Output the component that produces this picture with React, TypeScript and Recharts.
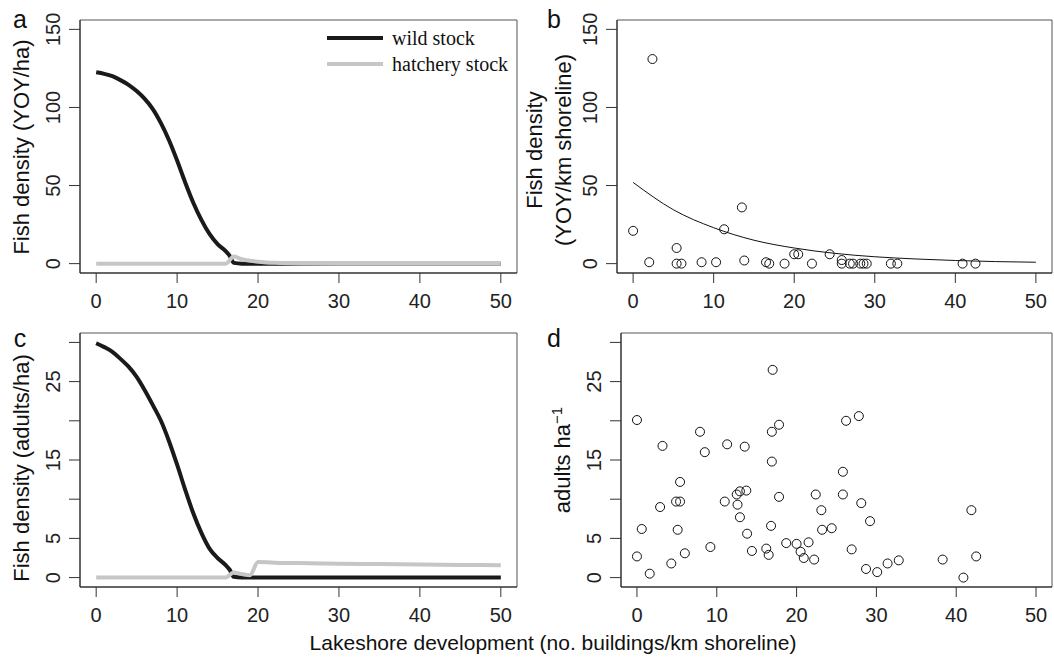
import React from 'react';
import { ComposedChart, Line, Scatter, XAxis, YAxis, ReferenceArea, Label, Legend } from 'recharts';

// panel a: modelled YOY density
const aWild = [
    { x: 0, y: 122.5 }, { x: 1, y: 121.5 }, { x: 2, y: 120 }, { x: 3, y: 117.5 }, { x: 4, y: 114.5 },
    { x: 5, y: 110.5 }, { x: 6, y: 105.5 }, { x: 7, y: 99 }, { x: 8, y: 90 }, { x: 9, y: 79 },
    { x: 10, y: 66 }, { x: 11, y: 52 }, { x: 12, y: 39 }, { x: 13, y: 28 }, { x: 14, y: 19 },
    { x: 15, y: 12.5 }, { x: 16, y: 8 }, { x: 16.5, y: 5 }, { x: 17, y: 0.5 }, { x: 18, y: 0 },
    { x: 25, y: 0 }, { x: 35, y: 0 }, { x: 50, y: 0 },
];
const aHatch = [
    { x: 0, y: 0 }, { x: 8, y: 0 }, { x: 16, y: 0 }, { x: 17, y: 4.5 }, { x: 18, y: 2.8 },
    { x: 19, y: 1.8 }, { x: 20, y: 1.2 }, { x: 21, y: 0.8 }, { x: 22, y: 0.5 }, { x: 24, y: 0.2 },
    { x: 26, y: 0.05 }, { x: 30, y: 0 }, { x: 50, y: 0 },
];

// panel b: observed YOY density and fitted curve
const bPoints = [
    { x: 0, y: 21 }, { x: 2.0, y: 0.9 }, { x: 2.4, y: 131 }, { x: 5.4, y: 10 }, { x: 5.4, y: 0 },
    { x: 6.0, y: 0 }, { x: 8.5, y: 0.9 }, { x: 10.3, y: 0.9 }, { x: 11.3, y: 22 }, { x: 13.5, y: 36 },
    { x: 13.8, y: 2 }, { x: 16.5, y: 0.9 }, { x: 16.9, y: 0 }, { x: 18.8, y: 0 }, { x: 20.0, y: 6 },
    { x: 20.5, y: 6 }, { x: 22.2, y: 0 }, { x: 24.4, y: 6 }, { x: 25.9, y: 2.3 }, { x: 25.9, y: 0 },
    { x: 26.9, y: 0 }, { x: 27.3, y: 0 }, { x: 28.2, y: 0 }, { x: 28.6, y: 0 }, { x: 29.0, y: 0 },
    { x: 32.0, y: 0 }, { x: 32.8, y: 0 }, { x: 40.9, y: 0 }, { x: 42.5, y: 0 },
];
const bFit = [
    { x: 0, y: 52 }, { x: 5, y: 34.5 }, { x: 10, y: 23 }, { x: 15, y: 15 }, { x: 20, y: 10 },
    { x: 25, y: 6.6 }, { x: 30, y: 4.4 }, { x: 35, y: 3 }, { x: 40, y: 2 }, { x: 45, y: 1.3 }, { x: 50, y: 0.9 },
];

// panel c: modelled adult density
const cWild = [
    { x: 0, y: 29.9 }, { x: 1, y: 29.4 }, { x: 2, y: 28.8 }, { x: 3, y: 27.9 }, { x: 4, y: 26.9 },
    { x: 5, y: 25.6 }, { x: 6, y: 23.9 }, { x: 7, y: 22.0 }, { x: 8, y: 20.0 }, { x: 9, y: 17.4 },
    { x: 10, y: 14.4 }, { x: 11, y: 11.2 }, { x: 12, y: 8.2 }, { x: 13, y: 5.7 }, { x: 14, y: 3.7 },
    { x: 15, y: 2.5 }, { x: 16, y: 1.6 }, { x: 16.5, y: 1 }, { x: 17, y: 0.1 }, { x: 18, y: 0 },
    { x: 25, y: 0 }, { x: 35, y: 0 }, { x: 50, y: 0 },
];
const cHatch = [
    { x: 0, y: 0 }, { x: 8, y: 0 }, { x: 16, y: 0 }, { x: 17, y: 0.65 }, { x: 18, y: 0.45 },
    { x: 19, y: 0.3 }, { x: 20, y: 2.0 }, { x: 22, y: 1.9 }, { x: 25, y: 1.85 }, { x: 30, y: 1.78 },
    { x: 35, y: 1.72 }, { x: 40, y: 1.67 }, { x: 45, y: 1.62 }, { x: 50, y: 1.58 },
];

// panel d: observed adult density
const dPoints = [
    { x: 0, y: 20.1 }, { x: 0, y: 2.7 }, { x: 0.6, y: 6.2 }, { x: 1.6, y: 0.5 }, { x: 3.2, y: 16.8 },
    { x: 2.9, y: 9.0 }, { x: 4.3, y: 1.8 }, { x: 4.9, y: 9.7 }, { x: 5.4, y: 9.7 }, { x: 5.1, y: 6.1 },
    { x: 5.4, y: 12.2 }, { x: 6.0, y: 3.1 }, { x: 7.9, y: 18.6 }, { x: 8.5, y: 16.0 }, { x: 9.2, y: 3.9 },
    { x: 11.0, y: 9.7 }, { x: 11.3, y: 17.0 }, { x: 12.6, y: 9.3 }, { x: 12.5, y: 10.6 }, { x: 12.9, y: 11.0 },
    { x: 13.7, y: 11.1 }, { x: 12.9, y: 7.7 }, { x: 13.5, y: 16.7 }, { x: 13.8, y: 5.6 }, { x: 14.4, y: 3.4 },
    { x: 16.2, y: 3.7 }, { x: 16.5, y: 2.9 }, { x: 16.8, y: 6.6 }, { x: 16.9, y: 14.8 }, { x: 16.9, y: 18.6 },
    { x: 17.0, y: 26.5 }, { x: 17.8, y: 19.5 }, { x: 17.8, y: 10.3 }, { x: 18.7, y: 4.4 }, { x: 20.0, y: 4.3 },
    { x: 20.5, y: 3.3 }, { x: 20.9, y: 2.5 }, { x: 21.5, y: 4.5 }, { x: 22.2, y: 2.3 }, { x: 22.4, y: 10.6 },
    { x: 23.1, y: 8.6 }, { x: 23.2, y: 6.1 }, { x: 24.4, y: 6.3 }, { x: 25.8, y: 13.5 }, { x: 25.8, y: 10.6 },
    { x: 26.2, y: 20.0 }, { x: 26.9, y: 3.6 }, { x: 27.8, y: 20.6 }, { x: 28.1, y: 9.5 }, { x: 28.7, y: 1.1 },
    { x: 29.2, y: 7.2 }, { x: 30.1, y: 0.7 }, { x: 31.4, y: 1.8 }, { x: 32.8, y: 2.2 }, { x: 38.3, y: 2.3 },
    { x: 40.9, y: 0 }, { x: 41.9, y: 8.6 }, { x: 42.5, y: 2.7 },
];

const xTicks = [0, 10, 20, 30, 40, 50];
const yoyTicks = [0, 50, 100, 150];
const adultTicks = [0, 5, 10, 15, 20, 25, 30];
const adultLabels = [0, 5, 15, 25];

const sans = '"Liberation Sans", Arial, Helvetica, sans-serif';
const serif = '"Liberation Serif", "Times New Roman", serif';
const WILD = '#1a1a1a';
const HATCH = '#c6c6c6';
const W = 1054;
const H = 659;

const XTick = (props: any) => (
    <text x={props.x} y={props.y} dy="0.71em" textAnchor="middle" fontSize={20} fill="#222" fontFamily={sans}>
        {props.payload.value}
    </text>
);

// R style: labels rotated with the axis, some labels dropped
const makeYTick = (shown: number[], boxLeft: number) => (props: any) => {
    if (!shown.includes(props.payload.value)) return <g />;
    const x = boxLeft - 20;
    return (
        <text x={x} y={props.y} transform={`rotate(-90 ${x} ${props.y})`} textAnchor="middle"
            fontSize={20} fill="#222" fontFamily={sans}>
            {props.payload.value}
        </text>
    );
};

const vText = (x: number, y: number, size: number, children: React.ReactNode) => (
    <text x={x} y={y} transform={`rotate(-90 ${x} ${y})`} textAnchor="middle" fontSize={size} fill="#111" fontFamily={sans}>
        {children}
    </text>
);

const letter = (x: number, y: number, s: string) => (
    <text x={x} y={y} textAnchor="middle" fontSize={25} fill="#111" fontFamily={sans}>{s}</text>
);

const Box = ({ y1, y2 }: { y1: number; y2: number }) => (
    <ReferenceArea x1={-2} x2={52} y1={y1} y2={y2} fill="none" stroke="#555" strokeWidth={1} ifOverflow="visible" />
);

const xAxis = (
    <XAxis type="number" dataKey="x" domain={[-2, 52]} ticks={xTicks} interval={0} height={30}
        tickSize={10} tickMargin={11} tick={XTick} axisLine={{ stroke: '#222' }} tickLine={{ stroke: '#333' }} allowDuplicatedCategory={false} />
);

const LegendBox = () => (
    <div style={{ fontFamily: serif, fontSize: 20, color: '#111' }}>
        {[{ name: 'wild stock', color: WILD }, { name: 'hatchery stock', color: HATCH }].map(item => (
            <div key={item.name} style={{ display: 'flex', alignItems: 'center', height: 26 }}>
                <svg width={56} height={6}><line x1={0} y1={3} x2={56} y2={3} stroke={item.color} strokeWidth={4} /></svg>
                <span style={{ marginLeft: 9, lineHeight: '26px' }}>{item.name}</span>
            </div>
        ))}
    </div>
);

const layer: React.CSSProperties = { position: 'absolute', left: 0, top: 0 };

export default function App() {
    return (
        <div style={{ position: 'absolute', left: 0, top: 0, width: W, height: H, background: '#fff', overflow: 'hidden' }}>
            {/* a */}
            <div style={layer}>
                <ComposedChart width={W} height={H} margin={{ top: 20, right: 537, bottom: 356, left: 20 }}>
                    {xAxis}
                    <YAxis type="number" domain={[-6, 156]} ticks={yoyTicks} interval={0} width={60}
                        tickSize={11} tickMargin={10} tick={makeYTick(yoyTicks, 80)} axisLine={{ stroke: '#222' }} tickLine={{ stroke: '#333' }}>
                        <Label content={() => <g>{letter(20, 28, 'a')}{vText(29, 147, 22, 'Fish density (YOY/ha)')}</g>} />
                    </YAxis>
                    <Box y1={-6} y2={156} />
                    <Line data={aWild} dataKey="y" type="monotone" dot={false} stroke={WILD} strokeWidth={4} isAnimationActive={false} />
                    <Line data={aHatch} dataKey="y" type="monotone" dot={false} stroke={HATCH} strokeWidth={4} isAnimationActive={false} />
                    <Legend layout="vertical" align="center" verticalAlign="middle" content={() => <LegendBox />}
                        wrapperStyle={{ position: 'absolute', left: 327, top: 25, width: 200, height: 52 }} />
                </ComposedChart>
            </div>

            {/* b */}
            <div style={layer}>
                <ComposedChart width={W} height={H} margin={{ top: 20, right: 2, bottom: 356, left: 557 }}>
                    {xAxis}
                    <YAxis type="number" domain={[-6, 156]} ticks={yoyTicks} interval={0} width={60}
                        tickSize={11} tickMargin={10} tick={makeYTick(yoyTicks, 617)} axisLine={{ stroke: '#222' }} tickLine={{ stroke: '#333' }}>
                        <Label content={() => <g>{letter(554, 28, 'b')}{vText(542, 150, 22, 'Fish density')}{vText(571, 150, 22, '(YOY/km shoreline)')}</g>} />
                    </YAxis>
                    <Box y1={-6} y2={156} />
                    <Line data={bFit} dataKey="y" type="monotone" dot={false} stroke="#111" strokeWidth={1} isAnimationActive={false} />
                    <Scatter data={bPoints} dataKey="y" isAnimationActive={false}
                        shape={(p: any) => <circle cx={p.cx} cy={p.cy} r={4.5} fill="none" stroke="#111" strokeWidth={1} />} />
                </ComposedChart>
            </div>

            {/* c */}
            <div style={layer}>
                <ComposedChart width={W} height={H} margin={{ top: 333, right: 537, bottom: 42, left: 20 }}>
                    <XAxis type="number" dataKey="x" domain={[-2, 52]} ticks={xTicks} interval={0} height={30}
                        tickSize={10} tickMargin={11} tick={XTick} axisLine={{ stroke: '#222' }} tickLine={{ stroke: '#333' }}>
                        <Label content={() => (
                            <text x={553} y={650} textAnchor="middle" fontSize={21} fill="#111" fontFamily={sans}>
                                Lakeshore development (no. buildings/km shoreline)
                            </text>
                        )} />
                    </XAxis>
                    <YAxis type="number" domain={[-1.2, 31.2]} ticks={adultTicks} interval={0} width={60}
                        tickSize={11} tickMargin={10} tick={makeYTick(adultLabels, 80)} axisLine={{ stroke: '#222' }} tickLine={{ stroke: '#333' }}>
                        <Label content={() => <g>{letter(20, 347, 'c')}{vText(29, 468, 22, 'Fish density (adults/ha)')}</g>} />
                    </YAxis>
                    <Box y1={-1.2} y2={31.2} />
                    <Line data={cWild} dataKey="y" type="monotone" dot={false} stroke={WILD} strokeWidth={4} isAnimationActive={false} />
                    <Line data={cHatch} dataKey="y" type="monotone" dot={false} stroke={HATCH} strokeWidth={4} isAnimationActive={false} />
                </ComposedChart>
            </div>

            {/* d */}
            <div style={layer}>
                <ComposedChart width={W} height={H} margin={{ top: 333, right: 2, bottom: 42, left: 561 }}>
                    {xAxis}
                    <YAxis type="number" domain={[-1.2, 31.2]} ticks={adultTicks} interval={0} width={60}
                        tickSize={11} tickMargin={9} tick={makeYTick(adultLabels, 621)} axisLine={{ stroke: '#222' }} tickLine={{ stroke: '#333' }}>
                        <Label content={() => (
                            <g>
                                {letter(554, 347, 'd')}
                                {vText(570, 460, 22, <>adults ha<tspan dy={-8} fontSize={15}>−1</tspan></>)}
                            </g>
                        )} />
                    </YAxis>
                    <Box y1={-1.2} y2={31.2} />
                    <Scatter data={dPoints} dataKey="y" isAnimationActive={false}
                        shape={(p: any) => <circle cx={p.cx} cy={p.cy} r={4.5} fill="none" stroke="#111" strokeWidth={1} />} />
                </ComposedChart>
            </div>
        </div>
    );
}
